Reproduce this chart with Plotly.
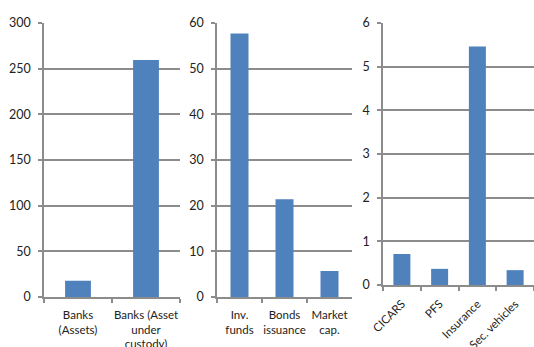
import plotly.graph_objects as go

# Data
cats1 = ["Banks<br>(Assets)", "Banks (Asset<br>under<br>custody)"]
vals1 = [17.8, 259.5]
cats2 = ["Inv.<br>funds", "Bonds<br>issuance", "Market<br>cap."]
vals2 = [57.7, 21.4, 5.7]
cats3 = ["CICARS", "PFS", "Insurance", "Sec. vehicles"]
vals3 = [0.71, 0.37, 5.46, 0.34]

W, H = 534, 347
BAR = "#4F81BD"
GRID = "#8C8C8C"
FONT = "Lato"

fig = go.Figure()
fig.add_trace(go.Bar(x=cats1, y=vals1, xaxis="x", yaxis="y", width=0.38,
                     marker=dict(color=BAR, line=dict(width=0))))
fig.add_trace(go.Bar(x=cats2, y=vals2, xaxis="x2", yaxis="y2", width=0.4,
                     marker=dict(color=BAR, line=dict(width=0))))
fig.add_trace(go.Bar(x=cats3, y=vals3, xaxis="x3", yaxis="y3", width=0.45,
                     marker=dict(color=BAR, line=dict(width=0))))

def px_x(a, b):
    return [a / W, b / W]

def px_y(top, bottom):
    return [(H - bottom) / H, (H - top) / H]

xcommon = dict(type="category", showline=True, linecolor=GRID, linewidth=1.5,
               ticks="outside", tickson="boundaries", ticklen=4, tickcolor=GRID,
               tickwidth=1.5, showgrid=False, zeroline=False, automargin=False,
               ticklabelstandoff=6,
               tickfont=dict(family=FONT, size=11.5, color="#222"))
ycommon = dict(showline=True, linecolor=GRID, linewidth=1.5, ticks="outside",
               ticklen=4, tickcolor=GRID, tickwidth=1.5, showgrid=True,
               gridcolor=GRID, gridwidth=1.5, zeroline=False, automargin=False,
               ticklabelstandoff=5,
               tickfont=dict(family=FONT, size=12.5, color="#222"))

fig.update_layout(
    template="none",
    width=W, height=H,
    margin=dict(l=0, r=0, t=0, b=0, autoexpand=False),
    paper_bgcolor="white", plot_bgcolor="white",
    showlegend=False,
    xaxis=dict(xcommon, domain=px_x(44, 180), anchor="y", tickangle=0),
    yaxis=dict(ycommon, domain=px_y(23, 297), anchor="x", range=[0, 300], dtick=50),
    xaxis2=dict(xcommon, domain=px_x(217, 352), anchor="y2", tickangle=0),
    yaxis2=dict(ycommon, domain=px_y(23, 297), anchor="x2", range=[0, 60], dtick=10),
    xaxis3=dict(xcommon, domain=px_x(383, 534), anchor="y3", tickangle=-45),
    yaxis3=dict(ycommon, domain=px_y(23, 285), anchor="x3", range=[0, 6], dtick=1),
)

fig.write_html("out.html")
